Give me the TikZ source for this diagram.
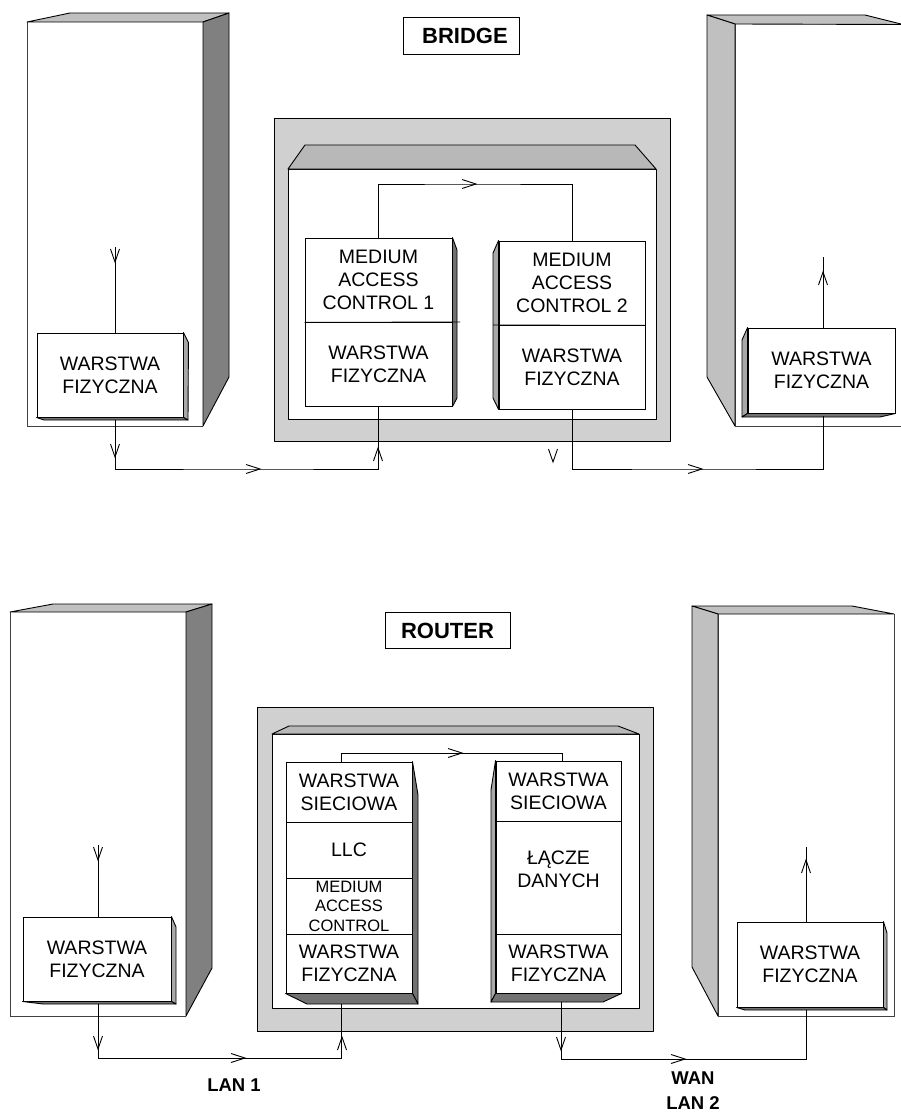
\documentclass[tikz,border=0pt]{standalone}
\usepackage{fontspec}
\setmainfont{Liberation Sans}
\usetikzlibrary{calc}

\definecolor{topgray}{HTML}{C0C0C0}
\definecolor{darkside}{HTML}{808080}
\definecolor{panelgray}{HTML}{D0D0D0}
\definecolor{lidgray}{HTML}{B8B8B8}
\definecolor{boxside}{HTML}{A8A8A8}
\definecolor{boxbottom}{HTML}{727272}

\tikzset{
  face/.style={draw=black, line width=0.9pt, line join=round},
  frontface/.style={draw=black!75, line width=0.8pt},
  layerbox/.style={draw=black, fill=white, line width=0.9pt, inner sep=0pt,
    rectangle, font=\fontsize{19.5}{23}\selectfont, align=center},
  smallbox/.style={layerbox, font=\fontsize{16.5}{19.5}\selectfont},
  txt/.style={font=\fontsize{19.5}{23}\selectfont, align=center, inner sep=0pt},
  title/.style={font=\fontsize{18.5}{25}\selectfont\bfseries, align=center, inner sep=0pt},
  titlebox/.style={font=\fontsize{22}{26}\selectfont\bfseries, inner sep=0pt,
    draw=black, fill=white, line width=0.9pt},
  wire/.style={draw=black, line width=0.9pt},
  tipdown/.pic={\draw[line width=0.9pt, line join=miter] (-4.5,-13) -- (0,0) -- (4.5,-13);},
  tipup/.pic={\draw[line width=0.9pt, line join=miter] (-4.5,13) -- (0,0) -- (4.5,13);},
  tipright/.pic={\draw[line width=0.9pt, line join=miter] (-14,-4.5) -- (0,0) -- (-14,4.5);},
}

\begin{document}
\begin{tikzpicture}[x=1pt, y=-1pt]
\useasboundingbox (0,0) rectangle (900,1113);

% ===================== BRIDGE =====================
% left station
\fill[white] (27,22) rectangle (203,426);
\draw[frontface] (203,426) -- (27,426) -- (27,22);
\draw[face, fill=topgray] (27,22) -- (70,13) -- (229,13) -- (203,22) -- cycle;
\draw[face, fill=darkside] (203,22) -- (229,13) -- (229,377) -- (203,426) -- cycle;

% right station
\fill[white] (735,24) rectangle (903,426);
\draw[frontface] (735,24) -- (735,426) -- (903,426);
\draw[face, fill=topgray] (707,15) -- (865,15) -- (903,24.5) -- (735,24) -- cycle;
\draw[face, fill=topgray] (707,15) -- (735,24) -- (735,426) -- (707,377) -- cycle;

% bridge housing
\draw[face, fill=panelgray] (274,118) rectangle (670,441);
\draw[face, fill=white] (288,169) rectangle (656,419);
\draw[face, fill=lidgray] (288,169) -- (305,145) -- (635,145) -- (656,169) -- cycle;

\node[titlebox, minimum width=116pt, minimum height=37pt] (bridge) at (461,35.5) {\hspace*{8pt}BRIDGE};

% layer cells
\node[layerbox, minimum width=146pt, minimum height=84pt] (bl) at (110,375) {WARSTWA\\FIZYCZNA};
\node[layerbox, minimum width=147pt, minimum height=84pt] (m1t) at (378.5,280) {MEDIUM\\ACCESS\\CONTROL 1};
\node[layerbox, minimum width=147pt, minimum height=84pt] (m1b) at (378.5,364) {WARSTWA\\FIZYCZNA};
\node[layerbox, minimum width=146pt, minimum height=84pt] (m2t) at (572,283) {MEDIUM\\ACCESS\\CONTROL 2};
\node[layerbox, minimum width=146pt, minimum height=84pt] (m2b) at (572,367) {WARSTWA\\FIZYCZNA};
\node[layerbox, minimum width=147pt, minimum height=85pt] (rb) at (821.5,370.5) {WARSTWA\\FIZYCZNA};

% cell depth
\draw[face, fill=boxside] (bl.north east) -- ++(5,10) -- (188,420) -- (bl.south east) -- cycle;
\draw[face, fill=boxbottom] (bl.south west) -- (44,420) -- (188,420) -- (bl.south east) -- cycle;
\draw[face, fill=boxbottom] (m1t.north east) -- (457,250) -- (457,398) -- (m1b.south east) -- cycle;
\draw[line width=0.9pt] (m1t.south west) -- (460,322);
\draw[face, fill=boxside] (m2t.north west) -- (493,253) -- (493,398) -- (m2b.south west) -- cycle;
\draw[line width=0.9pt] (493,325) -- (m2t.south east);
\draw[face, fill=boxside] (rb.north west) -- (742,340) -- (742,417) -- (rb.south west) -- cycle;
\draw[face, fill=boxbottom] (rb.south west) -- (742,417) -- (880,417) -- (rb.south east) -- cycle;

% connections
\coordinate (blin) at (115,247);
\coordinate (lanA) at (250,469);
\coordinate (lanB) at (690,469);
\coordinate (rbout) at (823,257);
\coordinate (btop) at (470,184);
\draw[wire] (blin) -- (blin |- bl.north);
\draw[wire] (blin |- bl.south) ++(0,3) |- (lanA) -| (m1b.south);
\draw[wire] (m2b.south) |- (lanB) -| ($(rbout |- rb.south)+(0,3)$);
\draw[wire] (rbout |- rb.north) -- (rbout);
\draw[wire] (m1t.north) |- (btop) -| (m2t.north);
\pic at (115,262) {tipdown};
\pic at (115,457) {tipdown};
\pic at (260,469) {tipright};
\pic at (378,448) {tipup};
\pic at (553,462) {tipdown};
\pic at (702,469) {tipright};
\pic at (823,272) {tipup};
\pic at (476,184) {tipright};

% ===================== ROUTER =====================
% left station
\fill[white] (10,612) rectangle (186,1016);
\draw[frontface] (186,1016) -- (10,1016) -- (10,612);
\draw[face, fill=topgray] (10,612) -- (53,604) -- (212,604) -- (186,612) -- cycle;
\draw[face, fill=darkside] (186,612) -- (212,604) -- (212,968) -- (186,1016) -- cycle;

% right station
\fill[white] (718,614) rectangle (894,1016);
\draw[frontface] (718,614) -- (718,1016) -- (894,1016) -- (894,614);
\draw[face, fill=topgray] (692,606) -- (852,606) -- (894,614) -- (718,614) -- cycle;
\draw[face, fill=topgray] (692,606) -- (718,614) -- (718,1016) -- (692,967) -- cycle;

% router housing
\draw[face, fill=panelgray] (257,707) rectangle (653,1031);
\draw[face, fill=white] (272,734) rectangle (639,1008);
\draw[face, fill=lidgray] (272,734) -- (289,726) -- (618,726) -- (639,734) -- cycle;

\node[titlebox, minimum width=125pt, minimum height=36pt] (router) at (447.5,630.5) {ROUTER};

% layer cells
\node[layerbox, minimum width=148pt, minimum height=84pt] (rl) at (97,959) {WARSTWA\\FIZYCZNA};
\node[layerbox, minimum width=126pt, minimum height=60pt] (ls1) at (349,792) {WARSTWA\\SIECIOWA};
\node[layerbox, minimum width=126pt, minimum height=56pt] (ls2) at (349,850) {LLC};
\node[smallbox, minimum width=126pt, minimum height=56pt] (ls3) at (349,906) {MEDIUM\\ACCESS\\CONTROL};
\node[layerbox, minimum width=126pt, minimum height=59pt] (ls4) at (349,963.5) {WARSTWA\\FIZYCZNA};
\node[layerbox, minimum width=125pt, minimum height=60pt] (rs1) at (558.5,791) {WARSTWA\\SIECIOWA};
\node[layerbox, minimum width=125pt, minimum height=113pt,
      label={[txt, yshift=8pt]center:ŁĄCZE\\DANYCH}] (rs2) at (558.5,877.5) {};
\node[layerbox, minimum width=125pt, minimum height=59pt] (rs3) at (558.5,963.5) {WARSTWA\\FIZYCZNA};
\node[layerbox, minimum width=146pt, minimum height=85pt] (rr) at (810,964.5) {WARSTWA\\FIZYCZNA};

% cell depth
\draw[face, fill=boxside] (rl.north east) -- (176,927) -- (176,1004) -- (rl.south east) -- cycle;
\draw[face, fill=boxbottom] (rl.south west) -- (43,1004) -- (176,1004) -- (rl.south east) -- cycle;
\draw[face, fill=boxbottom] (ls1.north east) -- (418,795) -- (418,1004) -- (ls4.south east) -- cycle;
\draw[face, fill=boxbottom] (ls4.south west) -- (307,1004) -- (418,1004) -- (ls4.south east) -- cycle;
\draw[face, fill=boxside] (rs1.north west) -- (491,790) -- (491,1002) -- (rs3.south west) -- cycle;
\draw[face, fill=boxbottom] (rs3.south west) -- (491,1002) -- (603,1002) -- (rs3.south east) -- cycle;
\draw[face, fill=boxside] (rr.north east) -- (887,933) -- (887,1010) -- (rr.south east) -- cycle;
\draw[face, fill=boxbottom] (rr.south west) -- (745,1010) -- (887,1010) -- (rr.south east) -- cycle;

% connections
\coordinate (rlin) at (98,845);
\coordinate (lsx) at (341,1058);
\coordinate (rtl) at (341,753);
\coordinate (rtr) at (562,753);
\coordinate (wanx) at (561,1059);
\coordinate (wany) at (806,1059);
\coordinate (rrout) at (806,847);
\draw[wire] (rlin) -- (rlin |- rl.north);
\draw[wire] ($(rlin |- rl.south)+(0,3)$) |- (lsx) -- ($(lsx |- ls4.south)+(0,11)$);
\draw[wire] (rtl |- ls1.north) -- (rtl) -- (rtr) -- (rtr |- rs1.north);
\draw[wire] ($(wanx |- rs3.south)+(0,9)$) -- (wanx) -- (wany) -- ($(wany |- rr.south)+(0,3)$);
\draw[wire] (rrout |- rr.north) -- (rrout);
\pic at (98,860) {tipdown};
\pic at (98,1049) {tipdown};
\pic at (245,1058) {tipright};
\pic at (342,1037) {tipup};
\pic at (462,753) {tipright};
\pic at (561,1050) {tipdown};
\pic at (685,1059) {tipright};
\pic at (806,860) {tipup};

% network labels
\node[title] (lan1) at (234,1085) {LAN 1};
\node[title] (wan) at (693,1091) {WAN\\LAN 2};
\end{tikzpicture}
\end{document}
